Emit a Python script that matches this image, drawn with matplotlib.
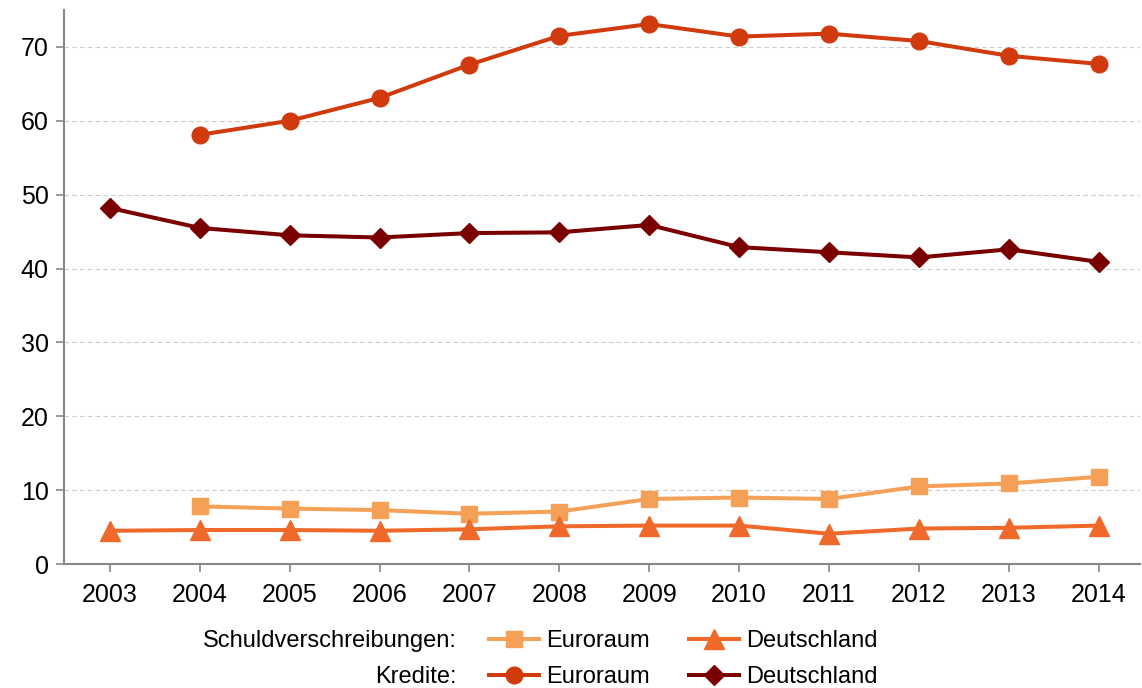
import matplotlib
matplotlib.use("Agg")
import matplotlib.pyplot as plt
import numpy as np

plt.rcParams['font.family'] = ['Liberation Sans', 'DejaVu Sans']

years = [2003, 2004, 2005, 2006, 2007, 2008, 2009, 2010, 2011, 2012, 2013, 2014]

# Kredite
kredite_euroraum = [np.nan, 58.1, 60.0, 63.1, 67.6, 71.5, 73.1, 71.4, 71.8, 70.8, 68.8, 67.7]
kredite_deutschland = [48.2, 45.5, 44.5, 44.2, 44.8, 44.9, 45.9, 42.9, 42.2, 41.5, 42.6, 40.9]

# Schuldverschreibungen
schuld_euroraum = [np.nan, 7.8, 7.5, 7.3, 6.8, 7.1, 8.8, 9.0, 8.8, 10.5, 10.9, 11.8]
schuld_deutschland = [4.5, 4.6, 4.6, 4.5, 4.7, 5.1, 5.2, 5.2, 4.1, 4.8, 4.9, 5.2]

c_se = '#F5A057'
c_sd = '#EF6A2A'
c_ke = '#D03A0C'
c_kd = '#7A0000'

fig = plt.figure(figsize=(11.42, 6.88), dpi=100)
ax = fig.add_axes([64 / 1142, 1 - 564 / 688, 1076 / 1142, 554 / 688])

lw = 2.9
l_se, = ax.plot(years, schuld_euroraum, color=c_se, lw=lw, marker='s', ms=11.5)
l_sd, = ax.plot(years, schuld_deutschland, color=c_sd, lw=lw, marker='^', ms=14)
l_ke, = ax.plot(years, kredite_euroraum, color=c_ke, lw=lw, marker='o', ms=12)
l_kd, = ax.plot(years, kredite_deutschland, color=c_kd, lw=lw, marker='D', ms=10.5)

ax.set_xlim(2002.49, 2014.46)
ax.set_ylim(0, 75)
ax.set_xticks(years)
ax.set_yticks(range(0, 71, 10))
ax.tick_params(axis='both', labelsize=18, color='#888888', length=6, width=1.2)
ax.tick_params(axis='x', pad=8)
ax.tick_params(axis='y', pad=5)
ax.grid(axis='y', color='#cccccc', linestyle=(0, (4, 3)), linewidth=0.8)
ax.set_axisbelow(True)
for s in ['top', 'right']:
    ax.spines[s].set_visible(False)
for s in ['left', 'bottom']:
    ax.spines[s].set_color('#888888')
    ax.spines[s].set_linewidth(1.5)

# legend: one row for Schuldverschreibungen, one for Kredite
rows = [('Schuldverschreibungen:', [l_se, l_sd], 641),
        ('Kredite:', [l_ke, l_kd], 677)]
for label, handles, ypix in rows:
    yf = 1 - ypix / 688
    leg = fig.legend(handles, ['Euroraum', 'Deutschland'], ncol=2, frameon=False,
                     fontsize=17, loc='center left', bbox_to_anchor=(489 / 1142, yf),
                     borderpad=0, borderaxespad=0, handlelength=2.1,
                     handletextpad=0.3, columnspacing=1.7)
    fig.text(457 / 1142, yf, label, ha='right', va='center', fontsize=17)

fig.savefig('out.png', dpi=100)
